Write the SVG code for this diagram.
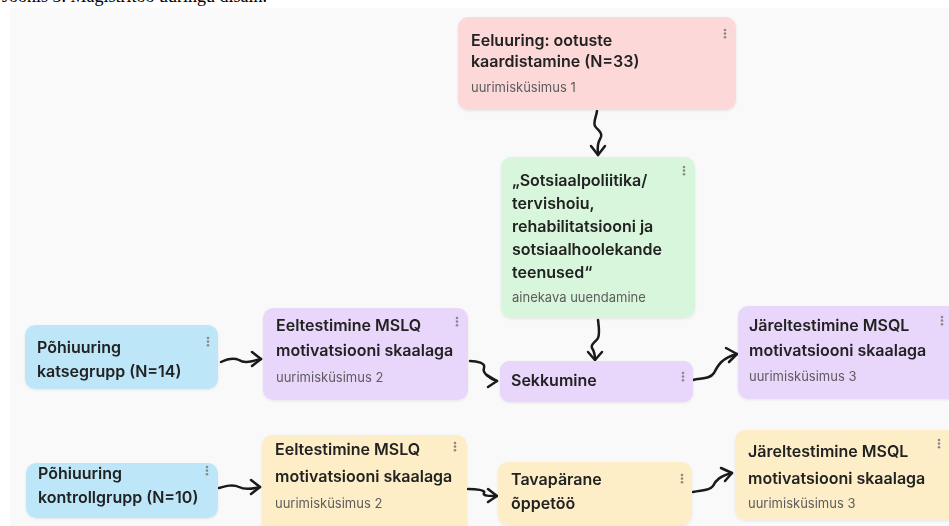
<svg xmlns="http://www.w3.org/2000/svg" width="949" height="526" viewBox="0 0 949 526">
<defs>
<style>
.t{font-family:Inter,"Noto Sans",sans-serif;font-size:16px;font-weight:600;fill:#222222}
.s{font-family:Inter,"Noto Sans",sans-serif;font-size:13px;font-weight:400;fill:#5c5c5c}
.cap{font-family:"Liberation Serif",serif;font-size:18px;fill:#000}
.dot{fill:#8a8a8a}
.pink{fill:#fdd8d8}
.green{fill:#d8f6db}
.blue{fill:#bde6f9}
.purple{fill:#e9d6fb}
.yellow{fill:#fdeec7}
.c{fill:none;stroke:#1a1a1a;stroke-width:2.5;stroke-linecap:round;stroke-linejoin:round}
</style>
<g id="dots"><circle cx="0" cy="0" r="1.3" class="dot"/><circle cx="0" cy="3.6" r="1.3" class="dot"/><circle cx="0" cy="7.2" r="1.3" class="dot"/></g>
<filter id="sh" x="-5%" y="-5%" width="110%" height="120%"><feDropShadow dx="0" dy="1" stdDeviation="1" flood-color="#000" flood-opacity="0.08"/></filter>
</defs>
<rect x="0" y="0" width="949" height="526" fill="#ffffff"/>
<rect x="10" y="8" width="939" height="518" fill="#f9f9f9"/>
<text class="cap" x="2" y="2">Joonis 3. Magistritöö uuringu disain.</text>

<g id="connectors">
<path class="c" d="M597,111 C596,118 593,122 595,126 C597,130 603,132 601,137 C599,141 597,143 598,155"/>
<path class="c" d="M591,146 L598,155 L605,146"/>
<path class="c" d="M598,320 C599,328 600,334 598,338 C596,342 590,344 592,348 C594,351 595,354 595,360"/>
<path class="c" d="M588,352 L595,360 L602,352"/>
<path class="c" d="M221,362 C227,359 233,357 239,360 C245,364 252,361 261,359"/>
<path class="c" d="M252,352 L261,359 L252,366"/>
<path class="c" d="M470,361 C477,361 486,363 484,368 C482,373 490,379 497,381"/>
<path class="c" d="M487,375 L497,381 L488,387"/>
<path class="c" d="M693,380 C702,378 710,379 714,373 C718,365 722,358 737,354"/>
<path class="c" d="M726,348 L737,354 L729,362"/>
<path class="c" d="M219,488 C226,486 233,484 239,487 C245,490 252,489 260,487"/>
<path class="c" d="M251,480 L260,487 L251,494"/>
<path class="c" d="M468,489 C476,489 486,490 484,493 C482,496 490,496 497,496"/>
<path class="c" d="M488,489 L497,496 L488,502"/>
<path class="c" d="M693,492 C702,490 709,491 713,486 C716,480 720,476 732,473"/>
<path class="c" d="M721,468 L732,473 L725,481"/>
</g>

<g id="n-eeluuring" filter="url(#sh)">
<rect class="pink" x="458" y="17" width="278" height="93" rx="10"/>
<text class="t" x="471" y="46">Eeluuring: ootuste</text>
<text class="t" x="471" y="67">kaardistamine (N=33)</text>
<text class="s" x="471" y="92">uurimisküsimus 1</text>
<use href="#dots" x="725" y="30"/>
</g>

<g id="n-ainekava" filter="url(#sh)">
<rect class="green" x="501" y="157" width="194" height="161" rx="10"/>
<text class="t" x="512" y="186">„Sotsiaalpoliitika/</text>
<text class="t" x="512" y="209">tervishoiu,</text>
<text class="t" x="512" y="232">rehabilitatsiooni ja</text>
<text class="t" x="512" y="255">sotsiaalhoolekande</text>
<text class="t" x="512" y="278">teenused“</text>
<text class="s" x="512" y="302">ainekava uuendamine</text>
<use href="#dots" x="684" y="167"/>
</g>

<g id="n-katsegrupp" filter="url(#sh)">
<rect class="blue" x="25" y="325" width="193" height="64" rx="10"/>
<text class="t" x="37" y="353">Põhiuuring</text>
<text class="t" x="37" y="377">katsegrupp (N=14)</text>
<use href="#dots" x="208" y="338"/>
</g>

<g id="n-eeltest1" filter="url(#sh)">
<rect class="purple" x="263" y="308" width="205" height="92" rx="10"/>
<text class="t" x="276" y="331">Eeltestimine MSLQ</text>
<text class="t" x="276" y="356">motivatsiooni skaalaga</text>
<text class="s" x="276" y="382">uurimisküsimus 2</text>
<use href="#dots" x="457" y="318"/>
</g>

<g id="n-sekkumine" filter="url(#sh)">
<rect class="purple" x="500" y="361" width="193" height="41" rx="9"/>
<text class="t" x="511" y="386">Sekkumine</text>
<use href="#dots" x="683" y="373"/>
</g>

<g id="n-jareltest1" filter="url(#sh)">
<rect class="purple" x="738" y="306" width="219" height="93" rx="10"/>
<text class="t" x="749" y="331">Järeltestimine MSQL</text>
<text class="t" x="749" y="356">motivatsiooni skaalaga</text>
<text class="s" x="749" y="381">uurimisküsimus 3</text>
<use href="#dots" x="942" y="317"/>
</g>

<g id="n-kontrollgrupp" filter="url(#sh)">
<rect class="blue" x="26" y="463" width="192" height="55" rx="10"/>
<text class="t" x="38" y="479">Põhiuuring</text>
<text class="t" x="38" y="503">kontrollgrupp (N=10)</text>
<use href="#dots" x="207" y="467"/>
</g>

<g id="n-eeltest2" filter="url(#sh)">
<rect class="yellow" x="262" y="435" width="205" height="100" rx="10"/>
<text class="t" x="275" y="455">Eeltestimine MSLQ</text>
<text class="t" x="275" y="482">motivatsiooni skaalaga</text>
<text class="s" x="275" y="508">uurimisküsimus 2</text>
<use href="#dots" x="455" y="443"/>
</g>

<g id="n-tavaparane" filter="url(#sh)">
<rect class="yellow" x="498" y="462" width="194" height="63" rx="10"/>
<text class="t" x="511" y="485">Tavapärane</text>
<text class="t" x="511" y="509">õppetöö</text>
<use href="#dots" x="682" y="475"/>
</g>

<g id="n-jareltest2" filter="url(#sh)">
<rect class="yellow" x="735" y="430" width="222" height="90" rx="10"/>
<text class="t" x="748" y="457">Järeltestimine MSQL</text>
<text class="t" x="748" y="484">motivatsiooni skaalaga</text>
<text class="s" x="748" y="508">uurimisküsimus 3</text>
<use href="#dots" x="939" y="440"/>
</g>
</svg>
